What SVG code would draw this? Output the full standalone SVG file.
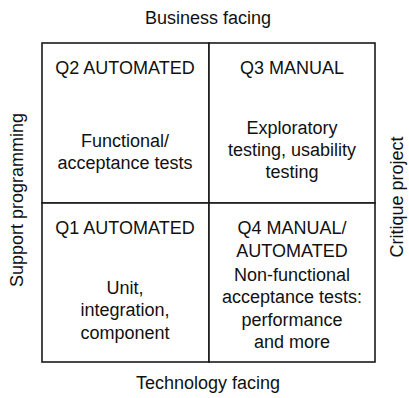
<svg xmlns="http://www.w3.org/2000/svg" width="409" height="398" viewBox="0 0 409 398">
<style>
text{font-family:"Liberation Sans",Arial,sans-serif;font-size:18px;fill:#111;text-anchor:middle}
.cell{fill:#fff;stroke:#1a1a1a;stroke-width:1.6}
</style>
<rect width="409" height="398" fill="#fff"/>
<g id="axis-labels">
<text x="208" y="24">Business facing</text>
<text x="208" y="389">Technology facing</text>
<text transform="translate(23,200) rotate(-90)">Support programming</text>
<text transform="translate(403,197) rotate(-90)">Critique project</text>
</g>
<g id="q2">
<rect class="cell" x="42" y="43" width="167" height="160"/>
<text x="125" y="74">Q2 AUTOMATED</text>
<text x="125" y="147">Functional/</text>
<text x="125" y="169">acceptance tests</text>
</g>
<g id="q3">
<rect class="cell" x="209" y="43" width="166" height="160"/>
<text x="292" y="74">Q3 MANUAL</text>
<text x="292" y="134">Exploratory</text>
<text x="292" y="156">testing, usability</text>
<text x="292" y="178">testing</text>
</g>
<g id="q1">
<rect class="cell" x="42" y="203" width="167" height="159"/>
<text x="125" y="234">Q1 AUTOMATED</text>
<text x="125" y="294">Unit,</text>
<text x="125" y="316">integration,</text>
<text x="125" y="339">component</text>
</g>
<g id="q4">
<rect class="cell" x="209" y="203" width="166" height="159"/>
<text x="292" y="234">Q4 MANUAL/</text>
<text x="292" y="257">AUTOMATED</text>
<text x="292" y="281">Non-functional</text>
<text x="292" y="303">acceptance tests:</text>
<text x="292" y="326">performance</text>
<text x="292" y="348">and more</text>
</g>
<g id="connectors"/>
</svg>
